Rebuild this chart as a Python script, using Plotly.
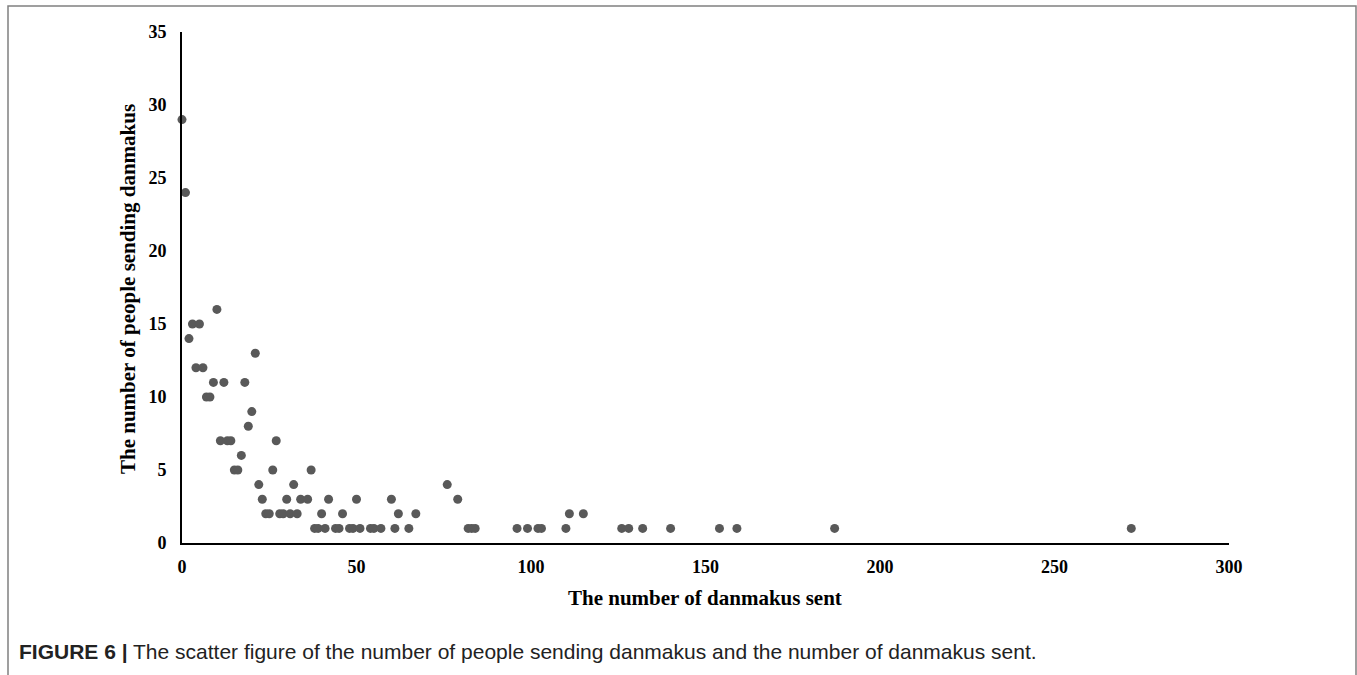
import plotly.graph_objects as go

# Data: number of danmakus sent (x) vs number of people sending them (y)
danmakus_sent = [0, 1, 2, 3, 4, 5, 6, 7, 8, 9, 10, 11, 12, 13, 14, 15, 16, 17, 18, 19,
                 20, 21, 22, 23, 24, 25, 26, 27, 28, 29, 30, 31, 32, 33, 34, 36, 37,
                 38, 39, 40, 41, 42, 44, 45, 46, 48, 49, 50, 51, 54, 55, 57, 60, 61,
                 62, 65, 67, 76, 79, 82, 83, 84, 96, 99, 102, 103, 110, 111, 115,
                 126, 128, 132, 140, 154, 159, 187, 272]
people_sending = [29, 24, 14, 15, 12, 15, 12, 10, 10, 11, 16, 7, 11, 7, 7, 5, 5, 6, 11, 8,
                  9, 13, 4, 3, 2, 2, 5, 7, 2, 2, 3, 2, 4, 2, 3, 3, 5,
                  1, 1, 2, 1, 3, 1, 1, 2, 1, 1, 3, 1, 1, 1, 1, 3, 1,
                  2, 1, 2, 4, 3, 1, 1, 1, 1, 1, 1, 1, 1, 2, 2,
                  1, 1, 1, 1, 1, 1, 1, 1]

x_ticks = [0, 50, 100, 150, 200, 250, 300]
y_ticks = [0, 5, 10, 15, 20, 25, 30, 35]

x_title = "The number of danmakus sent"
y_title = "The number of people sending danmakus"
caption = ("<b>FIGURE 6 |</b> The scatter figure of the number of people sending "
           "danmakus and the number of danmakus sent.")

W, H = 1357, 675
L, R, T, B = 182, 128, 32, 132
pw, ph = W - L - R, H - T - B

def px_x(p):
    return (p - L) / pw

def px_y(p):
    return (H - B - p) / ph

serif = "Liberation Serif, Times New Roman, serif"

fig = go.Figure()
fig.add_trace(go.Scatter(
    x=danmakus_sent, y=people_sending, mode="markers",
    marker=dict(size=9, color="#595959", line=dict(width=0)),
    showlegend=False, cliponaxis=False,
))

axis_common = dict(
    showgrid=False, zeroline=False, showline=True, linecolor="black", linewidth=2,
    ticks="outside", tickcolor="rgba(0,0,0,0)",
    tickfont=dict(family=serif, size=18, color="black", weight="bold"),
)
fig.update_xaxes(range=[0, 300], tickvals=x_ticks, ticklen=6, **axis_common)
fig.update_yaxes(range=[0, 35], tickvals=y_ticks, ticklen=10, **axis_common)

fig.add_annotation(text="<b>" + x_title + "</b>", xref="paper", yref="paper",
                   x=px_x(705), y=px_y(598), xanchor="center", yanchor="middle",
                   showarrow=False, font=dict(family=serif, size=21, color="black"))
fig.add_annotation(text="<b>" + y_title + "</b>", xref="paper", yref="paper",
                   x=px_x(128), y=px_y(289), xanchor="center", yanchor="middle",
                   textangle=-90, showarrow=False,
                   font=dict(family=serif, size=21, color="black"))
fig.add_annotation(text=caption, xref="paper", yref="paper",
                   x=px_x(17), y=px_y(651), xanchor="left", yanchor="middle",
                   showarrow=False,
                   font=dict(family="Liberation Sans, Arial, sans-serif", size=21, color="#222222"))

fig.add_shape(type="rect", xref="paper", yref="paper",
              x0=px_x(8), x1=px_x(1356), y0=px_y(690), y1=px_y(6),
              line=dict(color="#808080", width=1.5), fillcolor="rgba(0,0,0,0)", layer="below")

fig.update_layout(
    width=W, height=H, autosize=False,
    margin=dict(l=L, r=R, t=T, b=B, pad=0),
    paper_bgcolor="white", plot_bgcolor="white",
)

fig.write_html("out.html", config={"displayModeBar": False},
               post_script="document.body.style.margin='0';document.body.style.overflow='hidden';")
